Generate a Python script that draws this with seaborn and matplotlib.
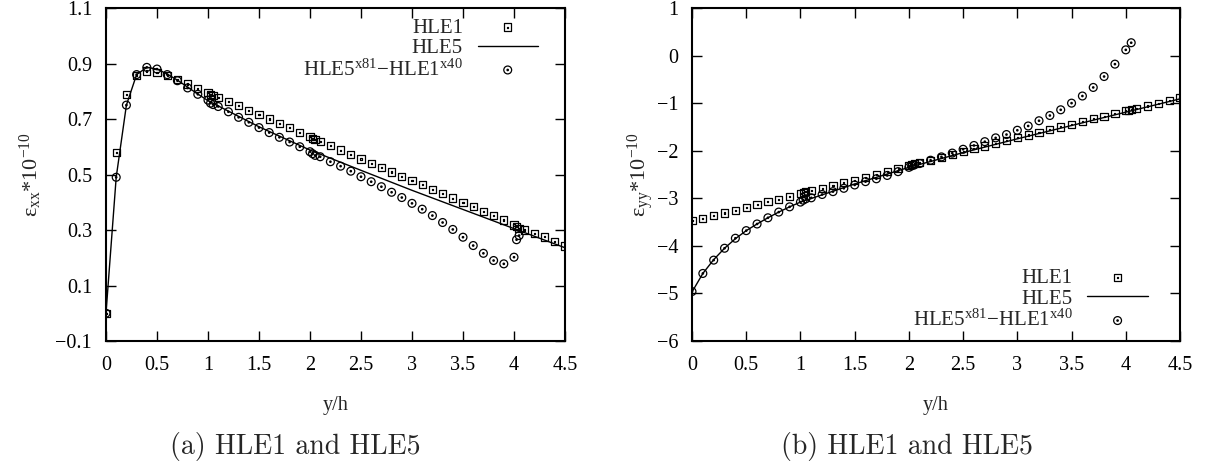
import numpy as np
import seaborn as sns
import matplotlib.pyplot as plt
from matplotlib.path import Path

# sample positions y/h (clustered at the interfaces 1, 2 and 4)
y_pos = [0.0, 0.1, 0.2, 0.3, 0.4, 0.5, 0.6, 0.7, 0.8, 0.9,
         1.0, 1.025, 1.05, 1.1, 1.2, 1.3, 1.4, 1.5, 1.6, 1.7, 1.8, 1.9,
         2.0, 2.025, 2.05, 2.1, 2.2, 2.3, 2.4, 2.5, 2.6, 2.7, 2.8, 2.9,
         3.0, 3.1, 3.2, 3.3, 3.4, 3.5, 3.6, 3.7, 3.8, 3.9,
         4.0, 4.025, 4.05, 4.1, 4.2, 4.3, 4.4, 4.5]

# (a) eps_xx
hle1_xx = [0.0, 0.58, 0.788, 0.857, 0.873, 0.867, 0.856, 0.841, 0.826, 0.810,
           0.795, 0.789, 0.784, 0.778, 0.764, 0.748, 0.732, 0.716, 0.700, 0.684, 0.668, 0.652,
           0.636, 0.630, 0.625, 0.620, 0.604, 0.588, 0.572, 0.556, 0.540, 0.524, 0.509, 0.494,
           0.479, 0.463, 0.447, 0.431, 0.415, 0.399, 0.384, 0.368, 0.352, 0.336,
           0.318, 0.312, 0.306, 0.300, 0.288, 0.275, 0.259, 0.242]
diff_xx = [0.0, 0.49, 0.75, 0.86, 0.886, 0.880, 0.860, 0.838, 0.812, 0.789,
           0.768, 0.757, 0.752, 0.745, 0.726, 0.706, 0.688, 0.669, 0.651, 0.634, 0.617, 0.600,
           0.582, 0.575, 0.569, 0.564, 0.546, 0.530, 0.512, 0.492, 0.474, 0.456, 0.436, 0.417,
           0.396, 0.375, 0.352, 0.327, 0.302, 0.274, 0.244, 0.216, 0.190, 0.178,
           0.202, 0.265, 0.280, np.nan, np.nan, np.nan, np.nan, np.nan]

# (b) eps_yy
hle1_yy = [-3.47, -3.42, -3.37, -3.31, -3.25, -3.19, -3.13, -3.07, -3.02, -2.96,
           -2.90, -2.88, -2.86, -2.84, -2.79, -2.73, -2.67, -2.62, -2.56, -2.50, -2.44, -2.38,
           -2.31, -2.29, -2.27, -2.25, -2.20, -2.14, -2.08, -2.02, -1.96, -1.90, -1.84, -1.78,
           -1.73, -1.67, -1.62, -1.56, -1.50, -1.45, -1.39, -1.33, -1.28, -1.22,
           -1.16, -1.15, -1.14, -1.12, -1.06, -1.00, -0.94, -0.88]
diff_yy = [-4.96, -4.58, -4.30, -4.05, -3.84, -3.68, -3.54, -3.41, -3.29, -3.18,
           -3.08, -3.04, -3.01, -2.99, -2.92, -2.86, -2.79, -2.72, -2.65, -2.59, -2.52, -2.44,
           -2.35, -2.32, -2.30, -2.27, -2.20, -2.13, -2.05, -1.97, -1.89, -1.81, -1.73, -1.66,
           -1.57, -1.48, -1.37, -1.26, -1.14, -1.00, -0.85, -0.67, -0.44, -0.18,
           0.12, np.nan, 0.27, np.nan, np.nan, np.nan, np.nan, np.nan]

# HLE5 reference curve
line_pos = [0.0, 0.1, 0.2, 0.3, 0.4, 0.5, 0.6, 0.7, 0.8, 0.9, 1.0,
            1.5, 2.0, 2.5, 3.0, 3.5, 4.0, 4.5]
hle5_xx = [0.0, 0.49, 0.75, 0.86, 0.886, 0.880, 0.862, 0.840, 0.815, 0.790, 0.766,
           0.672, 0.588, 0.515, 0.443, 0.374, 0.305, 0.236]
hle5_yy = [-4.97, -4.58, -4.29, -4.05, -3.85, -3.68, -3.54, -3.41, -3.29, -3.18, -3.08,
           -2.70, -2.35, -2.04, -1.75, -1.47, -1.19, -0.91]

x_ticks = [0, 0.5, 1, 1.5, 2, 2.5, 3, 3.5, 4, 4.5]
x_ticklabels = ['0', '0.5', '1', '1.5', '2', '2.5', '3', '3.5', '4', '4.5']
xx_ticks = [-0.1, 0.1, 0.3, 0.5, 0.7, 0.9, 1.1]
xx_ticklabels = ['\u22120.1', '0.1', '0.3', '0.5', '0.7', '0.9', '1.1']
yy_ticks = [-6, -5, -4, -3, -2, -1, 0, 1]
yy_ticklabels = ['\u22126', '\u22125', '\u22124', '\u22123', '\u22122', '\u22121', '0', '1']

lbl_sq = 'HLE1'
lbl_line = 'HLE5'
lbl_ci = 'HLE5$^{x81}$\u2212HLE1$^{x40}$'

sns.set_style("ticks")
plt.rcParams['font.family'] = ['Liberation Serif', 'DejaVu Serif']
plt.rcParams['mathtext.default'] = 'regular'

# gnuplot-like "box with dot" and "circle with dot" markers
box_dot = Path([(-1, -1), (1, -1), (1, 1), (-1, 1), (-1, -1),
                (-.15, -.15), (.15, -.15), (.15, .15), (-.15, .15), (-.15, -.15)],
               [Path.MOVETO, Path.LINETO, Path.LINETO, Path.LINETO, Path.CLOSEPOLY] * 2)
uc = Path.unit_circle()
circ_dot = Path.make_compound_path(uc, Path(uc.vertices * 0.18, uc.codes))


def panel(ax, sq, ci, ln, yticks, yticklabels, ylim, ylabel, ylab_x, leg_kw):
    sns.scatterplot(x=y_pos, y=sq, ax=ax, marker=box_dot, s=27, facecolor='none',
                    edgecolor='k', linewidth=0.9, label=lbl_sq, zorder=3)
    sns.lineplot(x=line_pos, y=ln, ax=ax, color='k', linewidth=1.0, sort=False,
                 label=lbl_line, zorder=2)
    sns.scatterplot(x=y_pos, y=ci, ax=ax, marker=circ_dot, s=32, facecolor='none',
                    edgecolor='k', linewidth=0.9, label=lbl_ci, zorder=3)
    ax.set_xlim(0, 4.5)
    ax.set_ylim(*ylim)
    ax.set_xticks(x_ticks)
    ax.set_xticklabels(x_ticklabels)
    ax.set_yticks(yticks)
    ax.set_yticklabels(yticklabels)
    ax.tick_params(direction='in', length=7, width=1, top=True, right=True,
                   labelsize=14.5, colors='k')
    ax.tick_params(axis='x', pad=11)
    ax.tick_params(axis='y', pad=10)
    for sp in ax.spines.values():
        sp.set_linewidth(1.5)
        sp.set_color('k')
    ax.set_xlabel('y/h', fontsize=14.5)
    ax.xaxis.set_label_coords(0.5, -0.165)
    ax.set_ylabel(ylabel, fontsize=16)
    ax.yaxis.set_label_coords(ylab_x, 0.5)
    h, l = ax.get_legend_handles_labels()
    order = [l.index(lbl_sq), l.index(lbl_line), l.index(lbl_ci)]
    ax.legend([h[i] for i in order], [l[i] for i in order], frameon=False,
              markerfirst=False, alignment='right', handlelength=2.9,
              handletextpad=0.7, labelspacing=0.05, borderpad=0, borderaxespad=0,
              fontsize=15, **leg_kw)


fig = plt.figure(figsize=(12.08, 4.69), dpi=100)
ax1 = fig.add_axes([106 / 1208, 1 - 341 / 469, 459 / 1208, 333 / 469])
ax2 = fig.add_axes([692 / 1208, 1 - 341 / 469, 488 / 1208, 333 / 469])

panel(ax1, hle1_xx, diff_xx, hle5_xx, xx_ticks, xx_ticklabels, (-0.1, 1.1),
      '\u03b5$_{xx}$*10$^{-10}$', -0.135,
      dict(loc='upper right', bbox_to_anchor=(0.941, 0.97)))
panel(ax2, hle1_yy, diff_yy, hle5_yy, yy_ticks, yy_ticklabels, (-6, 1),
      '\u03b5$_{yy}$*10$^{-10}$', -0.074,
      dict(loc='lower right', bbox_to_anchor=(0.934, 0.03)))

fig.text(295 / 1208, 1 - 446 / 469, '(a) HLE1 and HLE5', ha='center', va='center',
         fontsize=20, family='cmr10')
fig.text(907 / 1208, 1 - 446 / 469, '(b) HLE1 and HLE5', ha='center', va='center',
         fontsize=20, family='cmr10')

plt.savefig('out.png', dpi=100)
